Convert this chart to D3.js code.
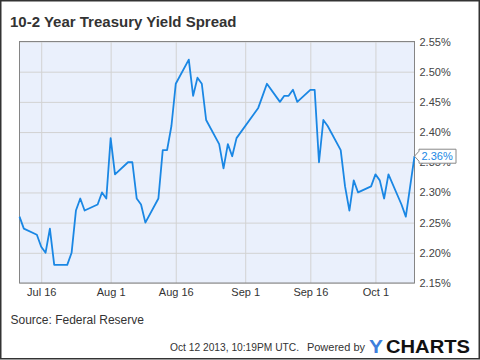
<!DOCTYPE html>
<html>
<head>
<meta charset="utf-8">
<script src="https://cdn.jsdelivr.net/npm/d3@7"></script>
<style>
  html, body { margin: 0; padding: 0; background: #fff; }
  svg { display: block; font-family: "Liberation Sans", Arial, sans-serif; }
</style>
</head>
<body>
<svg id="chart" width="480" height="360"></svg>
<script>
const dates = ["2013-07-11","2013-07-12","2013-07-15","2013-07-16","2013-07-17","2013-07-18","2013-07-19",
  "2013-07-22","2013-07-23","2013-07-24","2013-07-25","2013-07-26","2013-07-29","2013-07-30","2013-07-31",
  "2013-08-01","2013-08-02","2013-08-05","2013-08-06","2013-08-07","2013-08-08","2013-08-09",
  "2013-08-12","2013-08-13","2013-08-14","2013-08-15","2013-08-16","2013-08-19","2013-08-20","2013-08-21",
  "2013-08-22","2013-08-23","2013-08-26","2013-08-27","2013-08-28","2013-08-29","2013-08-30",
  "2013-09-03","2013-09-04","2013-09-05","2013-09-06","2013-09-09","2013-09-10","2013-09-11","2013-09-12",
  "2013-09-13","2013-09-16","2013-09-17","2013-09-18","2013-09-19","2013-09-20","2013-09-23","2013-09-24",
  "2013-09-25","2013-09-26","2013-09-27","2013-09-30","2013-10-01","2013-10-02","2013-10-03","2013-10-04",
  "2013-10-07","2013-10-08","2013-10-09","2013-10-10"];
const spread = [2.26,2.24,2.23,2.21,2.20,2.24,2.18,
  2.18,2.20,2.27,2.29,2.27,2.28,2.30,2.29,
  2.39,2.33,2.35,2.35,2.29,2.28,2.25,
  2.29,2.37,2.37,2.41,2.48,2.52,2.46,2.49,
  2.48,2.42,2.38,2.34,2.38,2.36,2.39,
  2.43,2.44,2.46,2.48,2.45,2.46,2.46,2.47,
  2.45,2.47,2.47,2.35,2.42,2.41,2.37,2.31,
  2.27,2.32,2.30,2.31,2.33,2.32,2.29,2.33,
  2.28,2.26,2.31,2.36];
const yTicks = [2.15,2.20,2.25,2.30,2.35,2.40,2.45,2.50,2.55];
const xTicks = ["2013-07-16","2013-08-01","2013-08-16","2013-09-01","2013-09-16","2013-10-01"];
const titleText = "10-2 Year Treasury Yield Spread";
const sourceText = "Source: Federal Reserve";
const stampText = "Oct 12 2013, 10:19PM UTC.";
const lastLabel = "2.36%";

const parse = d3.utcParse("%Y-%m-%d");
const data = dates.map((d, i) => ({ date: parse(d), value: spread[i] }));

const svg = d3.select("#chart");
const L = 19.5, R = 414.5, T = 41.5, B = 283;

const x = d3.scaleUtc().domain([parse("2013-07-11"), parse("2013-10-10")]).range([L, R]);
const y = d3.scaleLinear().domain([2.15, 2.55]).range([B, T]);

// outer frame
svg.append("rect").attr("x", 0.75).attr("y", 0.75).attr("width", 478.5).attr("height", 358)
  .attr("fill", "#fff").attr("stroke", "#333").attr("stroke-width", 1.5);

// title
svg.append("text").attr("x", 10).attr("y", 26.5).attr("font-size", 15).attr("font-weight", "bold")
  .attr("fill", "#333").text(titleText);

// plot background
svg.append("rect").attr("x", L).attr("y", T).attr("width", R - L).attr("height", B - T)
  .attr("fill", "#eaf0fc");

// horizontal gridlines
svg.append("g").attr("transform", `translate(${L},0)`)
  .call(d3.axisRight(y).tickValues(yTicks).tickSize(R - L).tickFormat(""))
  .call(g => g.select(".domain").remove())
  .call(g => g.selectAll("line").attr("stroke", "#d2d2d2").attr("stroke-width", 1));

// vertical gridlines
svg.append("g").attr("transform", `translate(0,${T})`)
  .call(d3.axisBottom(x).tickValues(xTicks.map(parse)).tickSize(B - T).tickFormat(""))
  .call(g => g.select(".domain").remove())
  .call(g => g.selectAll("line").attr("stroke", "#d2d2d2").attr("stroke-width", 1));

// plot border
svg.append("rect").attr("x", L).attr("y", T).attr("width", R - L).attr("height", B - T)
  .attr("fill", "none").attr("stroke", "#858585").attr("stroke-width", 1);

// y axis labels (right)
svg.append("g").attr("transform", `translate(${R},0)`)
  .call(d3.axisRight(y).tickValues(yTicks).tickSize(0).tickPadding(5).tickFormat(d => d3.format(".2f")(d) + "%"))
  .call(g => g.select(".domain").remove())
  .call(g => g.selectAll("text").attr("font-size", 11).attr("fill", "#444")
    .attr("font-family", "Liberation Sans, Arial, sans-serif"));

// x axis labels
svg.append("g").attr("transform", `translate(0,${B})`)
  .call(d3.axisBottom(x).tickValues(xTicks.map(parse)).tickSize(0).tickPadding(5)
    .tickFormat(d3.utcFormat("%b %-d")))
  .call(g => g.select(".domain").remove())
  .call(g => g.selectAll("text").attr("font-size", 11).attr("fill", "#333")
    .attr("font-family", "Liberation Sans, Arial, sans-serif"));

// line
const line = d3.line().x(d => x(d.date)).y(d => y(d.value));
svg.append("path").datum(data).attr("d", line).attr("fill", "none")
  .attr("stroke", "#1a87e4").attr("stroke-width", 1.8).attr("stroke-linejoin", "round");

// last value flag
const last = data[data.length - 1];
const cy = y(last.value), fx = x(last.date);
const bx = fx + 4.5, bw = 37, bh = 14;
svg.append("path")
  .attr("d", `M${fx},${cy} L${bx},${cy - 5} L${bx},${cy - bh / 2} L${bx + bw},${cy - bh / 2} L${bx + bw},${cy + bh / 2} L${bx},${cy + bh / 2} L${bx},${cy + 5} Z`)
  .attr("fill", "#fff").attr("stroke", "#888").attr("stroke-width", 1);
svg.append("text").attr("x", bx + 2.5).attr("y", cy).attr("dy", "0.36em").attr("font-size", 11)
  .attr("fill", "#1a87e4").text(lastLabel);

// footer
svg.append("text").attr("x", 10.5).attr("y", 323.5).attr("font-size", 12).attr("fill", "#333").text(sourceText);
svg.append("text").attr("x", 170).attr("y", 350.5).attr("font-size", 11).attr("fill", "#333")
  .attr("textLength", 129).attr("lengthAdjust", "spacingAndGlyphs").text(stampText);
svg.append("text").attr("x", 365).attr("y", 350.5).attr("font-size", 11).attr("fill", "#333")
  .attr("text-anchor", "end").text("Powered by");
svg.append("text").attr("x", 369).attr("y", 352.7).attr("font-size", 19).attr("font-weight", "bold")
  .attr("fill", "#3d7fdc").attr("textLength", 14).attr("lengthAdjust", "spacingAndGlyphs").text("Y");
svg.append("text").attr("x", 386).attr("y", 352.7).attr("font-size", 19).attr("font-weight", "bold")
  .attr("fill", "#111").attr("textLength", 84).attr("lengthAdjust", "spacingAndGlyphs").text("CHARTS");
</script>
</body>
</html>
